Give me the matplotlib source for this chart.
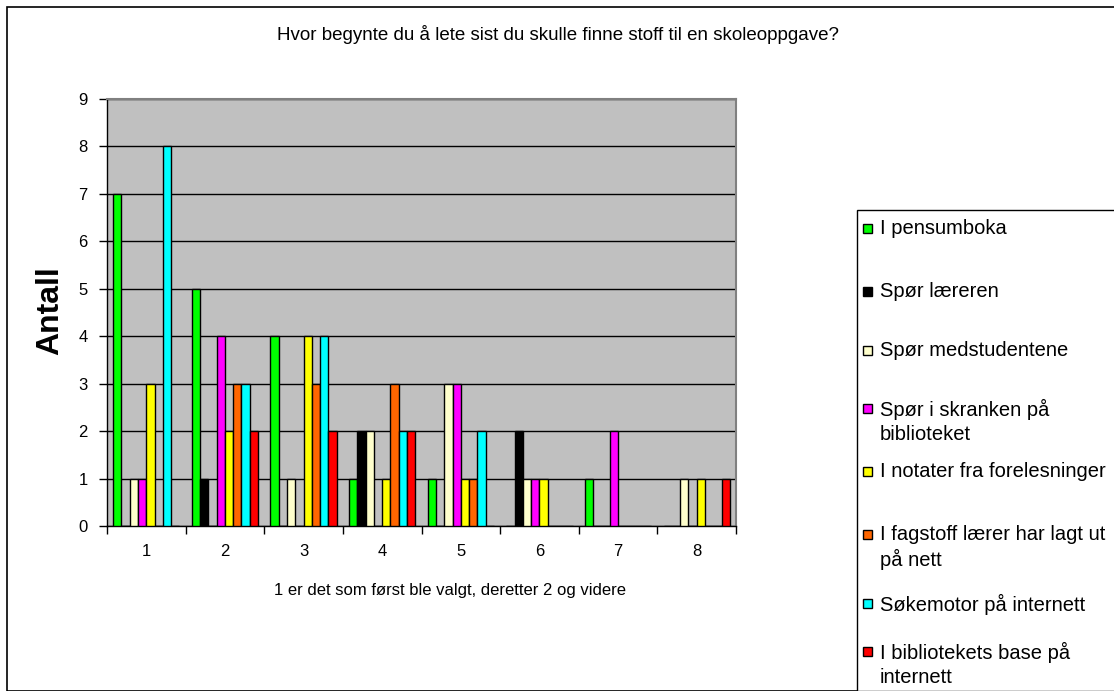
import matplotlib
matplotlib.use("Agg")
import matplotlib.pyplot as plt
from matplotlib.patches import Rectangle
import numpy as np

plt.rcParams['font.family'] = ['Liberation Sans', 'DejaVu Sans']

categories = ['1', '2', '3', '4', '5', '6', '7', '8']
series_names = [
    'I pensumboka',
    'Spør læreren',
    'Spør medstudentene',
    'Spør i skranken på\nbiblioteket',
    'I notater fra forelesninger',
    'I fagstoff lærer har lagt ut\npå nett',
    'Søkemotor på internett',
    'I bibliotekets base på\ninternett',
]
pensumboka = [7, 5, 4, 1, 1, 0, 1, 0]
laereren = [0, 1, 0, 2, 0, 2, 0, 0]
medstudentene = [1, 0, 1, 2, 3, 1, 0, 1]
skranken = [1, 4, 0, 0, 3, 1, 2, 0]
notater = [3, 2, 4, 1, 1, 1, 0, 1]
fagstoff = [0, 3, 3, 3, 1, 0, 0, 0]
sokemotor = [8, 3, 4, 2, 2, 0, 0, 0]
bibliotekbase = [0, 2, 2, 2, 0, 0, 0, 1]
series_values = [pensumboka, laereren, medstudentene, skranken,
                 notater, fagstoff, sokemotor, bibliotekbase]
colors = ['#00FF00', '#000000', '#FFFFCC', '#FF00FF',
          '#FFFF00', '#FF6600', '#00FFFF', '#FF0000']

W, H = 1114, 691
fig = plt.figure(figsize=(W / 100, H / 100), dpi=100)

# outer chart border
fig.patches.append(Rectangle((7 / W, 0), 1.2, 1 - 7 / H, transform=fig.transFigure,
                             fill=False, edgecolor='black', linewidth=1.2))

ax = fig.add_axes([107 / W, 1 - 526 / H, (736 - 107) / W, (526 - 99) / H])
ax.set_facecolor('#C0C0C0')

n = len(series_values)
bw = 1 / (n + 1.5)
x = np.arange(len(categories))
for i, (vals, c) in enumerate(zip(series_values, colors)):
    ax.bar(x - n * bw / 2 + (i + 0.5) * bw, vals, width=bw, color=c,
           edgecolor='black', linewidth=1.0, zorder=3)

ax.set_xlim(-0.5, len(categories) - 0.5)
ax.set_ylim(0, 9)
ax.set_yticks(range(0, 10))
ax.set_xticks(x)
ax.set_xticklabels(categories)
ax.set_xticks(np.arange(-0.5, len(categories), 1.0), minor=True)
ax.tick_params(axis='x', which='major', length=0, pad=13, labelsize=12)
ax.tick_params(axis='x', which='minor', length=6, direction='out', width=1)
ax.tick_params(axis='y', length=6, direction='out', width=1, labelsize=12, pad=8)
ax.yaxis.grid(True, color='black', linewidth=1.0, zorder=1)
ax.set_axisbelow(True)
for s in ['top', 'right']:
    ax.spines[s].set_color('#808080')
    ax.spines[s].set_linewidth(1.5)
for s in ['left', 'bottom']:
    ax.spines[s].set_color('black')
    ax.spines[s].set_linewidth(1.0)

fig.text(558 / W, 1 - 35 / H, 'Hvor begynte du å lete sist du skulle finne stoff til en skoleoppgave?',
         ha='center', va='center', fontsize=13.5)
fig.text(450 / W, 1 - 590 / H, '1 er det som først ble valgt, deretter 2 og videre',
         ha='center', va='center', fontsize=12)
fig.text(50 / W, 1 - 311 / H, 'Antall', rotation=90, ha='center', va='center',
         fontsize=23, fontweight='bold')

# legend box
fig.patches.append(Rectangle((857 / W, 0), 1, 1 - 210 / H, transform=fig.transFigure,
                             fill=True, facecolor='white', edgecolor='black', linewidth=1.0))
entry_tops = [221, 284, 343, 401, 464, 527, 596, 644]
for name, c, top in zip(series_names, colors, entry_tops):
    fig.patches.append(Rectangle((863 / W, 1 - (top + 12) / H), 9 / W, 9 / H,
                                 transform=fig.transFigure, facecolor=c,
                                 edgecolor='black', linewidth=1.0))
    fig.text(880 / W, 1 - (top - 2) / H, name, ha='left', va='top', fontsize=14.5,
             linespacing=1.3)

fig.savefig('out.png', dpi=100)
